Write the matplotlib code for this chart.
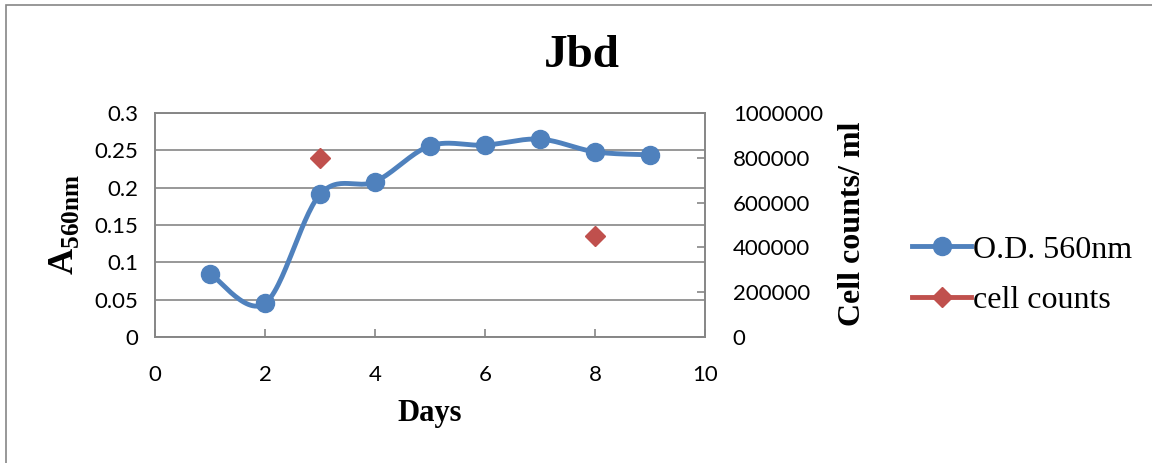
import numpy as np
import matplotlib.pyplot as plt
from matplotlib.lines import Line2D
from matplotlib.patches import Rectangle

days = [1, 2, 3, 4, 5, 6, 7, 8, 9]
od560 = [0.085, 0.045, 0.191, 0.208, 0.256, 0.257, 0.265, 0.248, 0.244]
count_days = [3, 8]
cell_counts = [800000, 450000]
od_ticks = [0, 0.05, 0.1, 0.15, 0.2, 0.25, 0.3]
od_labels = ["0", "0.05", "0.1", "0.15", "0.2", "0.25", "0.3"]
count_ticks = [0, 200000, 400000, 600000, 800000, 1000000]

blue = "#4F81BD"
red = "#C0504D"
grid_c = "#868686"
serif = "Liberation Serif"
sans = "Lato"

plt.rcParams["mathtext.fontset"] = "custom"
plt.rcParams["mathtext.rm"] = "Liberation Serif"
plt.rcParams["mathtext.bf"] = "Liberation Serif:bold"


def smooth(x, y, n=30):
    # Catmull-Rom curve through the points, like a spreadsheet "smoothed line"
    x = np.asarray(x, float)
    y = np.asarray(y, float)
    px = np.concatenate([[x[0]], x, [x[-1]]])
    py = np.concatenate([[y[0]], y, [y[-1]]])
    xs, ys = [], []
    t = np.linspace(0, 1, n)
    for i in range(1, len(px) - 2):
        p0, p1, p2, p3 = (np.array([px[j], py[j]]) for j in range(i - 1, i + 3))
        c1 = p1 + (p2 - p0) / 6
        c2 = p2 - (p3 - p1) / 6
        seg = ((1 - t) ** 3)[:, None] * p1 + (3 * (1 - t) ** 2 * t)[:, None] * c1 \
            + (3 * (1 - t) * t ** 2)[:, None] * c2 + (t ** 3)[:, None] * p2
        xs.extend(seg[:, 0])
        ys.extend(seg[:, 1])
    return xs, ys


fig = plt.figure(figsize=(11.52, 4.63), dpi=100)
fig.patches.append(Rectangle((6 / 1152, -0.1), 1.2, 1 - 5 / 463 + 0.1,
                             transform=fig.transFigure, fill=False,
                             edgecolor=grid_c, linewidth=1.2))

ax = fig.add_axes([155 / 1152, 1 - 337 / 463, 550 / 1152, 224 / 463])
ax2 = ax.twinx()

ax.set_xlim(0, 10)
ax.set_ylim(0, 0.3)
ax2.set_ylim(0, 1000000)
ax.set_xticks(range(0, 11, 2))
ax.set_yticks(od_ticks)
ax.set_yticklabels(od_labels)
ax2.set_yticks(count_ticks)
ax2.set_yticklabels([str(v) for v in count_ticks])
ax.yaxis.grid(True, color=grid_c, linewidth=1.2)
ax.set_axisbelow(True)

for a in (ax, ax2):
    for s in a.spines.values():
        s.set_color(grid_c)
        s.set_linewidth(1.2)
    a.tick_params(direction="in", length=6, width=1.2, color=grid_c,
                  labelsize=16)
    for lab in a.get_xticklabels() + a.get_yticklabels():
        lab.set_family(sans)
ax.tick_params(axis="y", length=0, pad=12)
ax.tick_params(axis="x", pad=20)
ax2.tick_params(axis="y", pad=20)

xs, ys = smooth(days, od560)
ax.plot(xs, ys, color=blue, linewidth=3.5, solid_capstyle="round", zorder=3)
ax.plot(days, od560, "o", color=blue, markersize=13, zorder=4)
ax2.plot(count_days, cell_counts, "D", color=red, markersize=10, zorder=4)

fig.text(0.505, 0.88, "Jbd", ha="center", va="center", family=serif,
         fontweight="bold", fontsize=34)
fig.text(430 / 1152, 1 - 413 / 463, "Days", ha="center", va="center",
         family=serif, fontweight="bold", fontsize=22)
fig.text(64 / 1152, 1 - 225 / 463, r"$\mathbf{A}_{\mathbf{560nm}}$",
         ha="center", va="center", fontsize=26, rotation=90)
fig.text(852 / 1152, 1 - 224 / 463, "Cell counts/ ml", ha="center",
         va="center", family=serif, fontweight="bold", fontsize=23,
         rotation=90)

handles = [
    Line2D([], [], color=blue, linewidth=3.5, marker="o", markersize=13),
    Line2D([], [], color=red, linewidth=3.5, marker="D", markersize=10),
]
fig.legend(handles, ["O.D. 560nm", "cell counts"], loc="center left",
           bbox_to_anchor=(912 / 1152, 1 - 275 / 463), frameon=False,
           prop={"family": serif, "size": 23}, handlelength=1.85,
           handletextpad=0.05, labelspacing=0.65, borderaxespad=0,
           borderpad=0)

fig.savefig("out.png", dpi=100)
